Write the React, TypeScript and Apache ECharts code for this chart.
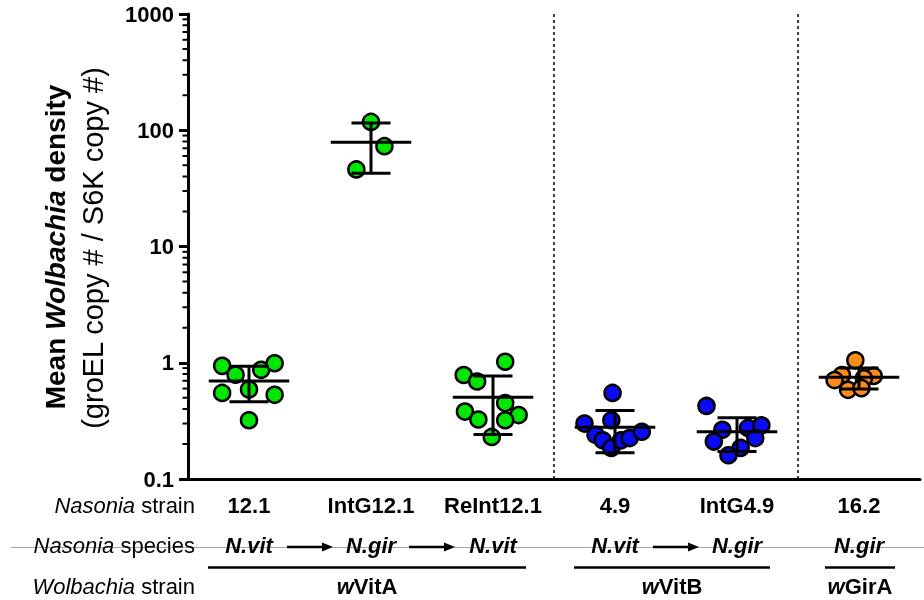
import React, { useEffect, useRef } from 'react';
import * as echarts from 'echarts';

// ---- categories & labels ----
const strainLabels = ['12.1', 'IntG12.1', 'ReInt12.1', '4.9', 'IntG4.9', '16.2'];
const yTickLabels = ['0.1', '1', '10', '100', '1000'];
const speciesLabels = ['N.vit', 'N.gir', 'N.vit', 'N.vit', 'N.gir', 'N.gir'];
const speciesArrows = [[0, 1], [1, 2], [3, 4]];
const wolbachiaGroups = [
  { name: 'VitA', from: 0, to: 2 },
  { name: 'VitB', from: 3, to: 4 },
  { name: 'GirA', from: 5, to: 5 },
];
const dividerPositions = [2.5, 4.5];

// ---- per-strain density values and horizontal jitter (category units) ----
const values121 = [0.94, 0.79, 0.87, 0.99, 0.59, 0.55, 0.53, 0.32];
const jitter121 = [-0.22, -0.11, 0.1, 0.21, 0, -0.22, 0.21, 0];
const valuesIntG121 = [118, 73, 46];
const jitterIntG121 = [0, 0.11, -0.12];
const valuesReInt121 = [1.02, 0.785, 0.69, 0.45, 0.38, 0.355, 0.325, 0.32, 0.23];
const jitterReInt121 = [0.1, -0.24, -0.13, 0.1, -0.23, 0.21, -0.12, 0.1, -0.01];
const values49 = [0.55, 0.32, 0.3, 0.24, 0.215, 0.185, 0.215, 0.225, 0.255];
const jitter49 = [-0.02, -0.03, -0.25, -0.16, -0.1, -0.03, 0.05, 0.12, 0.22];
const valuesIntG49 = [0.425, 0.265, 0.275, 0.29, 0.21, 0.225, 0.185, 0.16];
const jitterIntG49 = [-0.25, -0.12, 0.09, 0.2, -0.19, 0.15, 0.03, -0.07];
const values162 = [1.05, 0.785, 0.77, 0.71, 0.735, 0.585, 0.605];
const jitter162 = [-0.03, -0.14, 0.12, -0.2, 0.04, -0.09, 0.02];

const minorTickDecades = [0.1, 1, 10, 100];
const minorTickSteps = [2, 3, 4, 5, 6, 7, 8, 9];

const GREEN = '#00e600';
const BLUE = '#0a0af5';
const ORANGE = '#ff8c1a';

const groups = [
  { idx: 0, values: values121, jitter: jitter121, color: GREEN },
  { idx: 1, values: valuesIntG121, jitter: jitterIntG121, color: GREEN },
  { idx: 2, values: valuesReInt121, jitter: jitterReInt121, color: GREEN },
  { idx: 3, values: values49, jitter: jitter49, color: BLUE },
  { idx: 4, values: valuesIntG49, jitter: jitterIntG49, color: BLUE },
  { idx: 5, values: values162, jitter: jitter162, color: ORANGE },
];

function meanSd(a: number[]) {
  const m = a.reduce((s, v) => s + v, 0) / a.length;
  const sd = Math.sqrt(a.reduce((s, v) => s + (v - m) * (v - m), 0) / (a.length - 1));
  return [m, sd];
}

const FONT = 'Liberation Sans, Arial, sans-serif';

export default function App() {
  const ref = useRef<HTMLDivElement>(null);
  useEffect(() => {
    const chart = echarts.init(ref.current!, null, { renderer: 'svg' });
    const pointsFor = (color: string) =>
      groups
        .filter((g) => g.color === color)
        .flatMap((g) => g.values.map((v, k) => [g.idx + g.jitter[k], v]));
    const statData = groups.map((g) => {
      const [m, sd] = meanSd(g.values);
      return [g.idx, m, m + sd, m - sd];
    });
    const minorData = minorTickDecades.flatMap((d) => minorTickSteps.map((s) => [-0.5, s * d]));
    const scatterBase = {
      type: 'scatter',
      xAxisIndex: 1,
      symbol: 'circle',
      symbolSize: 16,
      z: 2,
    };
    const lineStyle = { stroke: '#000', lineWidth: 3 };
    chart.setOption({
      animation: false,
      grid: { left: 188, right: 4, top: 14, bottom: 121, containLabel: false },
      xAxis: [
        {
          type: 'category',
          data: strainLabels,
          boundaryGap: true,
          axisLine: { onZero: false, lineStyle: { color: '#000', width: 3 } },
          axisTick: { alignWithLabel: true, length: 8, lineStyle: { color: '#000', width: 3 } },
          axisLabel: {
            color: '#000',
            fontFamily: FONT,
            fontWeight: 'bold',
            fontSize: 22,
            margin: 26,
            verticalAlign: 'middle',
            interval: 0,
          },
          splitLine: { show: false },
        },
        { type: 'value', min: -0.5, max: 5.5, show: false, splitLine: { show: false } },
      ],
      yAxis: {
        type: 'log',
        logBase: 10,
        min: 0.1,
        max: 1000,
        axisLine: { show: true, onZero: false, lineStyle: { color: '#000', width: 3 } },
        axisTick: { show: true, length: 9, lineStyle: { color: '#000', width: 3 } },
        axisLabel: {
          color: '#000',
          fontFamily: FONT,
          fontWeight: 'bold',
          fontSize: 22,
          margin: 14,
          formatter: (v: number) => yTickLabels[Math.round(Math.log10(v)) + 1] ?? '',
        },
        splitLine: { show: false },
      },
      series: [
        {
          ...scatterBase,
          data: pointsFor(GREEN),
          itemStyle: { color: GREEN, borderColor: '#000', borderWidth: 2.5, opacity: 1 },
          markLine: {
            silent: true,
            symbol: 'none',
            label: { show: false },
            lineStyle: { color: '#000', width: 1.5, type: [3, 3] },
            data: dividerPositions.map((v) => ({ xAxis: v })),
          },
        },
        {
          ...scatterBase,
          data: pointsFor(BLUE),
          itemStyle: { color: BLUE, borderColor: '#000', borderWidth: 2.5, opacity: 1 },
        },
        {
          ...scatterBase,
          data: pointsFor(ORANGE),
          itemStyle: { color: ORANGE, borderColor: '#000', borderWidth: 2.5, opacity: 1 },
        },
        {
          type: 'custom',
          xAxisIndex: 1,
          z: 5,
          data: statData,
          encode: { x: 0, y: [1, 2, 3] },
          renderItem: (_p: any, api: any) => {
            const x = api.value(0);
            const m = api.value(1);
            const c = api.coord([x, m]);
            const t = api.coord([x, api.value(2)]);
            const b = api.coord([x, api.value(3)]);
            const w = api.coord([x + 0.33, m])[0] - c[0];
            const cap = api.coord([x + 0.16, m])[0] - c[0];
            return {
              type: 'group',
              children: [
                { type: 'line', shape: { x1: c[0] - w, y1: c[1], x2: c[0] + w, y2: c[1] }, style: lineStyle },
                { type: 'line', shape: { x1: c[0], y1: t[1], x2: c[0], y2: b[1] }, style: lineStyle },
                { type: 'line', shape: { x1: c[0] - cap, y1: t[1], x2: c[0] + cap, y2: t[1] }, style: lineStyle },
                { type: 'line', shape: { x1: c[0] - cap, y1: b[1], x2: c[0] + cap, y2: b[1] }, style: lineStyle },
              ],
            };
          },
        },
        {
          type: 'custom',
          xAxisIndex: 1,
          z: 5,
          silent: true,
          data: minorData,
          encode: { x: 0, y: 1 },
          renderItem: (_p: any, api: any) => {
            const p = api.coord([api.value(0), api.value(1)]);
            return {
              type: 'line',
              shape: { x1: p[0] - 5.5, y1: p[1], x2: p[0], y2: p[1] },
              style: { stroke: '#000', lineWidth: 2 },
            };
          },
        },
      ],
    });

    const cx = (i: number) => chart.convertToPixel({ xAxisIndex: 1 }, i) as number;
    const textStyleBase = { fontFamily: FONT, fontSize: 22, fill: '#000' };
    const elements: any[] = [];

    // y-axis title
    elements.push({
      type: 'text',
      x: 55,
      y: 247,
      rotation: Math.PI / 2,
      style: {
        text: '{b|Mean }{bi|Wolbachia}{b| density}',
        align: 'center',
        verticalAlign: 'middle',
        rich: {
          b: { fontFamily: FONT, fontSize: 28, fontWeight: 'bold', fill: '#000' },
          bi: { fontFamily: FONT, fontSize: 28, fontWeight: 'bold', fontStyle: 'italic', fill: '#000' },
        },
      },
    });
    elements.push({
      type: 'text',
      x: 93,
      y: 248,
      rotation: Math.PI / 2,
      style: {
        text: '(groEL copy # / S6K copy #)',
        align: 'center',
        verticalAlign: 'middle',
        fontFamily: FONT,
        fontSize: 29,
        fill: '#000',
      },
    });

    // gray guide line through the species row
    elements.push({
      type: 'line',
      shape: { x1: 11, y1: 547.5, x2: 924, y2: 547.5 },
      style: { stroke: '#a6a6a6', lineWidth: 1 },
    });

    // left row titles
    const rowTitle = (it: string, rest: string, y: number) => ({
      type: 'text',
      x: 195,
      y,
      style: {
        text: `{i|${it}}{r| ${rest}}`,
        align: 'right',
        verticalAlign: 'middle',
        rich: {
          i: { ...textStyleBase, fontStyle: 'italic' },
          r: { ...textStyleBase },
        },
      },
    });
    elements.push(rowTitle('Nasonia', 'strain', 505));
    elements.push(rowTitle('Nasonia', 'species', 545));
    elements.push(rowTitle('Wolbachia', 'strain', 586));

    // species labels
    speciesLabels.forEach((s, i) => {
      elements.push({
        type: 'text',
        x: cx(i),
        y: 545,
        style: {
          ...textStyleBase,
          text: s,
          fontWeight: 'bold',
          fontStyle: 'italic',
          align: 'center',
          verticalAlign: 'middle',
        },
      });
    });

    // species arrows
    speciesArrows.forEach(([a, b]) => {
      const mid = (cx(a) + cx(b)) / 2;
      const y = 547;
      elements.push({
        type: 'line',
        shape: { x1: mid - 23, y1: y, x2: mid + 14, y2: y },
        style: { stroke: '#000', lineWidth: 2.5 },
      });
      elements.push({
        type: 'polygon',
        shape: { points: [[mid + 12, y - 4.5], [mid + 23, y], [mid + 12, y + 4.5]] },
        style: { fill: '#000' },
      });
    });

    // wolbachia strain bars and names
    wolbachiaGroups.forEach((g) => {
      const single = g.from === g.to;
      const x1 = cx(g.from) - (single ? 34 : 41);
      const x2 = cx(g.to) + (single ? 36 : 33);
      elements.push({
        type: 'line',
        shape: { x1, y1: 567.5, x2, y2: 567.5 },
        style: { stroke: '#000', lineWidth: 2.5 },
      });
      elements.push({
        type: 'text',
        x: (x1 + x2) / 2,
        y: 586,
        style: {
          text: `{i|w}{b|${g.name}}`,
          align: 'center',
          verticalAlign: 'middle',
          rich: {
            i: { ...textStyleBase, fontWeight: 'bold', fontStyle: 'italic' },
            b: { ...textStyleBase, fontWeight: 'bold' },
          },
        },
      });
    });

    chart.setOption({ graphic: elements });
    return () => chart.dispose();
  }, []);
  return <div ref={ref} style={{ position: 'fixed', left: 0, top: 0, width: 924, height: 600 }} />;
}
